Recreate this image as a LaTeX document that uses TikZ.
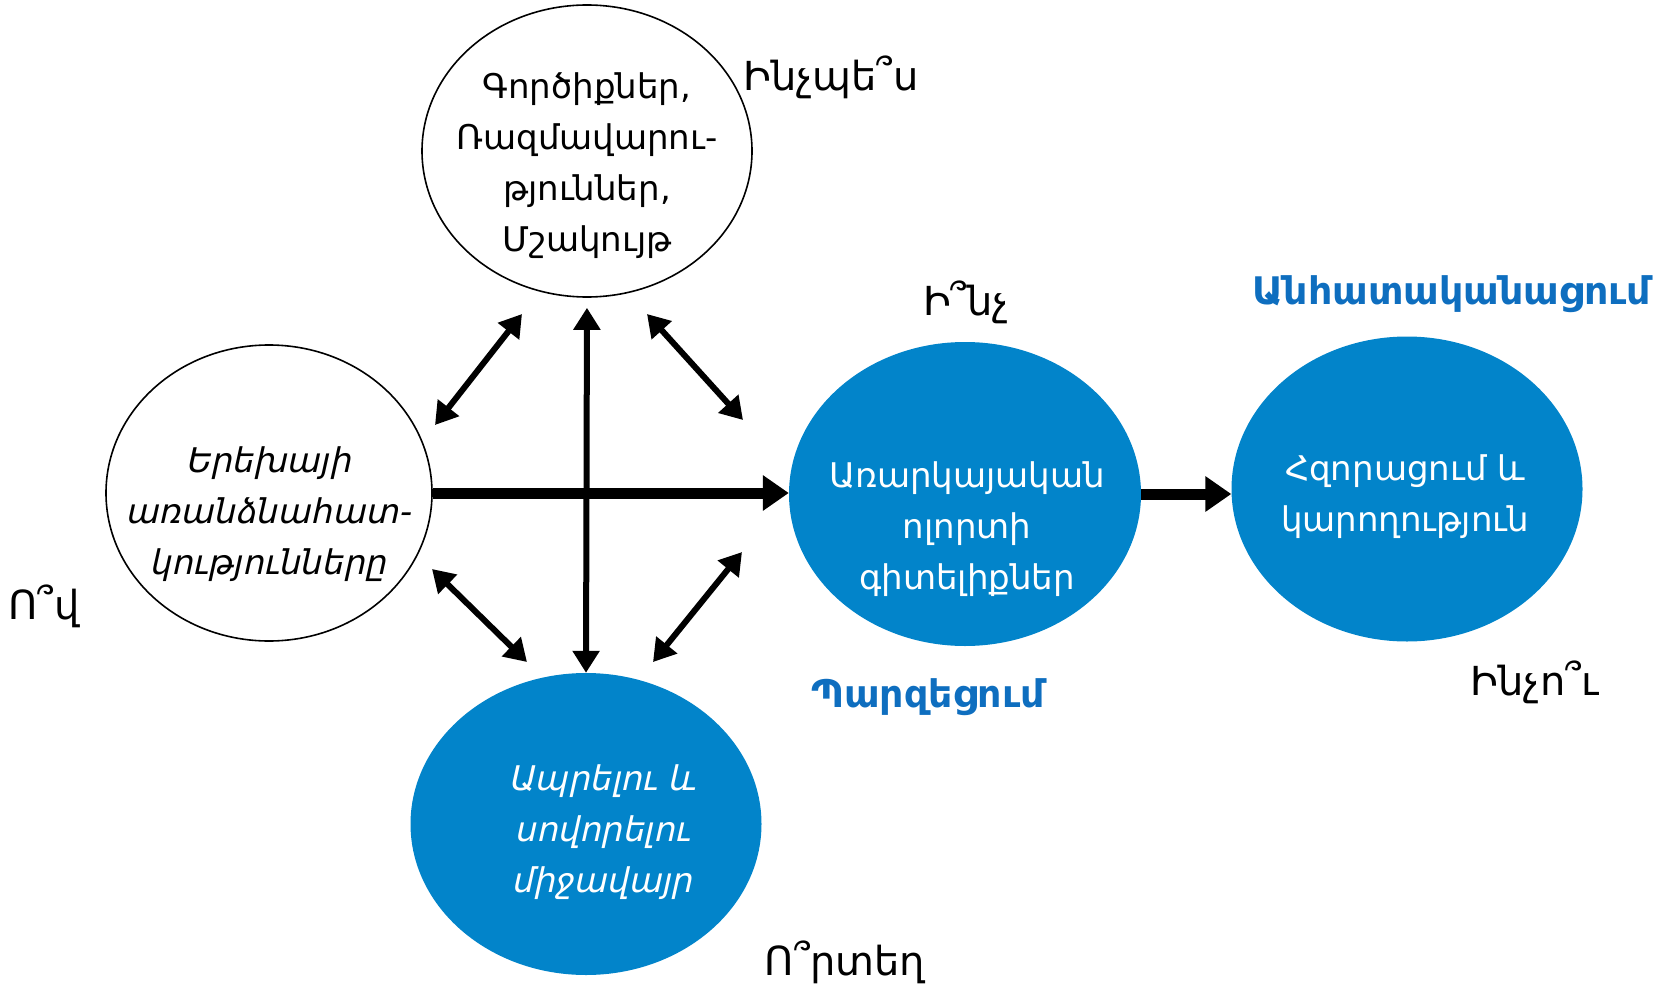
\documentclass[tikz,border=0pt]{standalone}
\usepackage{fontspec}
\setmainfont{DejaVu Sans}
\newfontfamily\armit[FakeSlant=0.22]{DejaVu Sans}
\usetikzlibrary{shapes.geometric,arrows.meta}
\definecolor{eblue}{HTML}{0284CA}
\definecolor{lblue}{HTML}{0E6EBF}
\begin{document}
\begin{tikzpicture}[x=1pt,y=-1pt,
  wnode/.style={ellipse, draw=black, line width=1.6pt, fill=white, inner sep=0pt},
  bnode/.style={ellipse, fill=eblue, inner sep=0pt},
  etext/.style={align=center, font=\fontsize{34}{51}\selectfont, inner sep=0pt},
  ittext/.style={etext, font=\armit\fontsize{34}{51}\selectfont},
  bigarrow/.style={line width=11pt, -{Triangle[length=26pt,width=34pt]}},
  dblarrow/.style={line width=6pt, {Triangle[length=22pt,width=26pt]}-{Triangle[length=22pt,width=26pt]}},
  qlabel/.style={font=\fontsize{40}{44}\selectfont, inner sep=0pt},
  blabel/.style={font=\bfseries\fontsize{38}{42}\selectfont, text=lblue, inner sep=0pt}]
\useasboundingbox (0,0) rectangle (1675,987);
% ellipses
\node[wnode, minimum width=330pt, minimum height=292pt] (tools) at (587,151) {};
\node[wnode, minimum width=326pt, minimum height=296pt] (kid) at (269,493) {};
\node[bnode, minimum width=352pt, minimum height=304pt] (subj) at (965,494) {};
\node[bnode, minimum width=351pt, minimum height=305pt] (emp) at (1407,489) {};
\node[bnode, minimum width=351pt, minimum height=302pt] (env) at (586,824) {};
% texts
\node[etext] (toolsT) at (587,166) {Գործիքներ,\\Ռազմավարու-\\թյուններ,\\Մշակույթ};
\node[ittext] (kidT) at (268,514) {Երեխայի\\առանձնահատ-\\կությունները};
\node[etext, text=white] (subjT) at (967,529) {Առարկայական\\ոլորտի\\գիտելիքներ};
\node[etext, text=white] (empT) at (1405,497) {Հզորացում և\\կարողություն};
\node[ittext, text=white] (envT) at (602,832) {Ապրելու և\\սովորելու\\միջավայր};
% labels
\node[qlabel] (qhow) at (831,77) {Ինչպե՞ս};
\node[qlabel] (qwhat) at (966,302) {Ի՞նչ};
\node[qlabel] (qwhy) at (1535,682) {Ինչո՞ւ};
\node[qlabel] (qwho) at (44,606) {Ո՞վ};
\node[qlabel] (qwhere) at (845,962) {Ո՞րտեղ};
\node[blabel] (lpers) at (1452,294) {Անհատականացում};
\node[blabel] (lsimp) at (928,697) {Պարզեցում};
% arrow end points
\coordinate (ula) at (435,425); \coordinate (ulb) at (522,314);
\coordinate (ura) at (647,314); \coordinate (urb) at (743,420);
\coordinate (lla) at (432,569); \coordinate (llb) at (527,662);
\coordinate (lra) at (742,552); \coordinate (lrb) at (653,662);
% connectors
\draw[bigarrow] (kid.east) -- (kid.east -| subj.west);
\draw[bigarrow] (subj.east) -- (subj.east -| emp.west);
\draw[dblarrow, shorten <=10pt] (tools.south) -- (env.north);
\draw[dblarrow] (ula) -- (ulb);
\draw[dblarrow] (ura) -- (urb);
\draw[dblarrow] (lla) -- (llb);
\draw[dblarrow] (lra) -- (lrb);
\end{tikzpicture}
\end{document}
